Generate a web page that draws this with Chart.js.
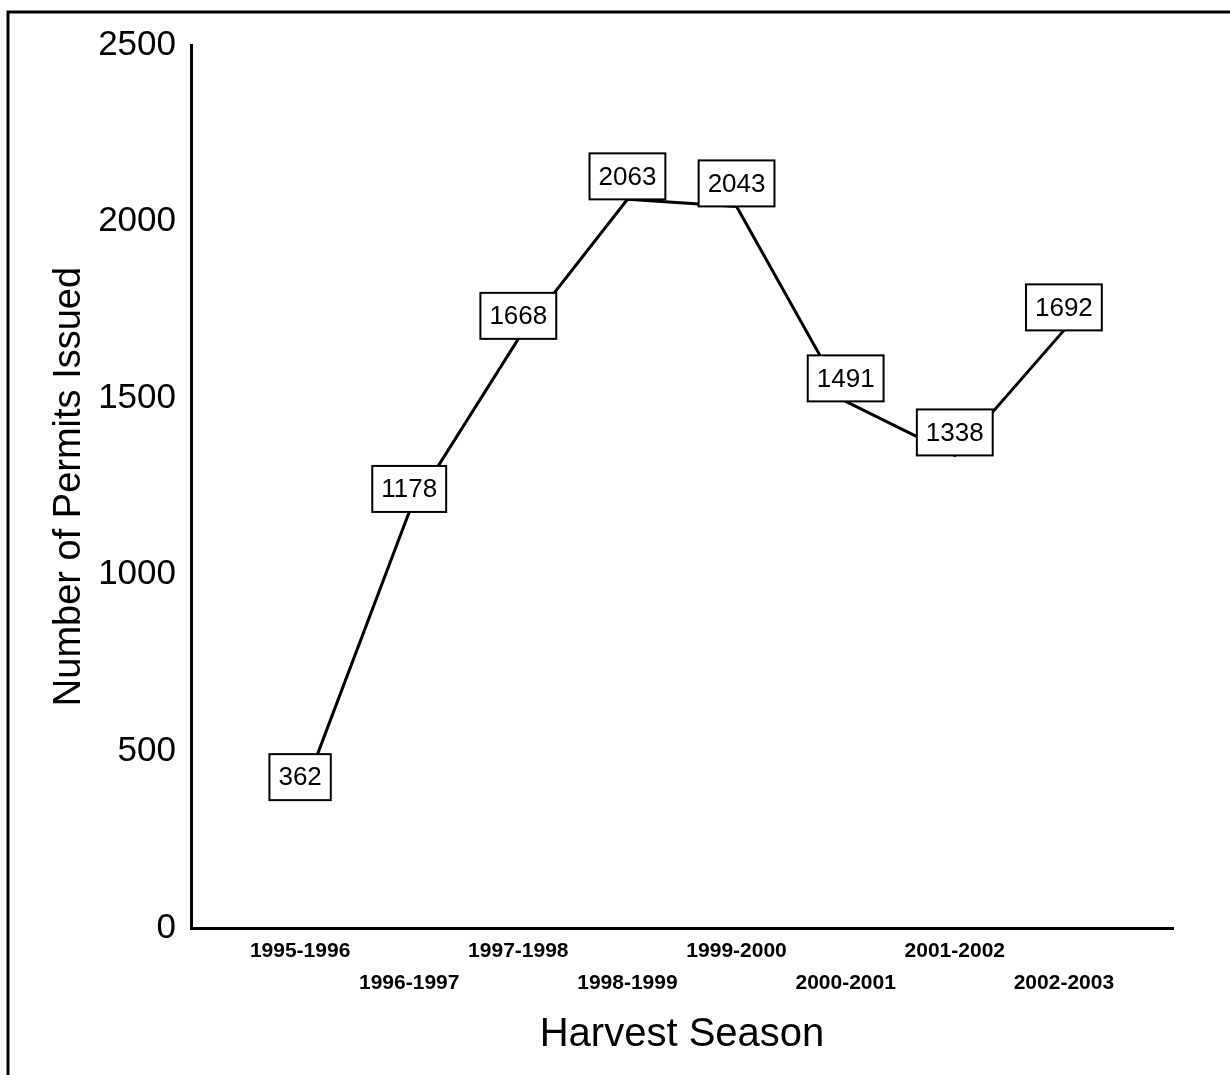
<!DOCTYPE html>
<html>
<head>
<meta charset="utf-8">
<title>Number of Permits Issued by Harvest Season</title>
<script src="https://cdn.jsdelivr.net/npm/chart.js@4/dist/chart.umd.min.js"></script>
<style>
  html, body { margin: 0; padding: 0; background: #fff; }
  canvas { display: block; }
</style>
</head>
<body>
<canvas id="permitsChart" width="1230" height="1075"></canvas>
<script>
// values
const seasons = ['1995-1996', '1996-1997', '1997-1998', '1998-1999',
                 '1999-2000', '2000-2001', '2001-2002', '2002-2003'];
const permits = [362, 1178, 1668, 2063, 2043, 1491, 1338, 1692];
const yTicks = [0, 500, 1000, 1500, 2000, 2500];

const FONT = "'Liberation Sans', Arial, Helvetica, sans-serif";

// page frame (left and top rule of the scanned figure)
const framePlugin = {
	id: 'frame',
	beforeDraw: function(chart)
	{
		let ctx = chart.ctx;
		ctx.save();
		ctx.fillStyle = '#fff';
		ctx.fillRect(0, 0, chart.width, chart.height);
		ctx.strokeStyle = '#000';
		ctx.lineWidth = 3;
		ctx.beginPath();
		ctx.moveTo(8, chart.height);
		ctx.lineTo(8, 12);
		ctx.lineTo(chart.width, 12);
		ctx.stroke();
		ctx.restore();
	}
};

// boxed value labels sitting on top of each point
const boxLabels = {
	id: 'boxLabels',
	afterDatasetsDraw: function(chart)
	{
		let ctx = chart.ctx;
		let meta = chart.getDatasetMeta(0);
		ctx.save();
		ctx.font = '26px ' + FONT;
		ctx.textAlign = 'center';
		ctx.textBaseline = 'middle';
		meta.data.forEach(function(pt, i)
		{
			let txt = String(permits[i]);
			let w = ctx.measureText(txt).width + 18;
			let h = 46;
			let x = pt.x - w / 2;
			let y = pt.y - h;
			ctx.fillStyle = '#fff';
			ctx.fillRect(x, y, w, h);
			ctx.lineWidth = 2;
			ctx.strokeStyle = '#000';
			ctx.strokeRect(x, y, w, h);
			ctx.fillStyle = '#000';
			ctx.fillText(txt, pt.x, y + h / 2 + 1);
		});
		ctx.restore();
	}
};

let ctx = document.getElementById('permitsChart').getContext('2d');
let myChart = new Chart(ctx, {
	type: 'line',
	data: {
		datasets: [{
			data: permits.map(function(v, i) { return {x: i + 1, y: v}; }),
			borderColor: '#000',
			borderWidth: 3,
			pointRadius: 0,
			tension: 0,
			fill: false
		}]
	},
	options: {
		responsive: false,
		animation: false,
		devicePixelRatio: 1,
		layout: {
			padding: {left: 0, top: 45, right: 57, bottom: 0}
		},
		plugins: {
			legend: {display: false},
			tooltip: {enabled: false}
		},
		scales: {
			x: {
				type: 'linear',
				min: 0,
				max: seasons.length + 1,
				grid: {display: false, drawTicks: false},
				border: {display: true, color: '#000', width: 3},
				afterBuildTicks: function(scale)
				{
					scale.ticks = seasons.map(function(s, i) { return {value: i + 1}; });
				},
				afterFit: function(scale)
				{
					scale.height = 1075 - 928;
				},
				ticks: {
					autoSkip: false,
					maxRotation: 0,
					minRotation: 0,
					padding: 7,
					color: '#000',
					font: {family: FONT, size: 21, weight: 'bold', lineHeight: 1.52},
					callback: function(value)
					{
						let i = Math.round(value) - 1;
						return i % 2 === 0 ? [seasons[i]] : ['', seasons[i]];
					}
				},
				title: {
					display: true,
					text: 'Harvest Season',
					color: '#000',
					font: {family: FONT, size: 40},
					padding: {top: 0, bottom: 16}
				}
			},
			y: {
				min: yTicks[0],
				max: yTicks[yTicks.length - 1],
				grid: {display: false, drawTicks: false},
				border: {display: true, color: '#000', width: 3},
				afterBuildTicks: function(scale)
				{
					scale.ticks = yTicks.map(function(v) { return {value: v}; });
				},
				afterFit: function(scale)
				{
					scale.width = 191;
				},
				ticks: {
					padding: 15,
					color: '#000',
					font: {family: FONT, size: 35},
					callback: function(value) { return String(value); }
				},
				title: {
					display: true,
					text: 'Number of Permits Issued',
					color: '#000',
					font: {family: FONT, size: 38},
					padding: {top: 47, bottom: 0}
				}
			}
		}
	},
	plugins: [framePlugin, boxLabels]
});
</script>
</body>
</html>
